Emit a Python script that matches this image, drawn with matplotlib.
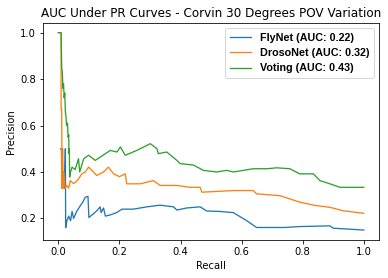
import matplotlib
matplotlib.use("Agg")
import matplotlib.pyplot as plt

# FlyNet
fly_recall = [0.008, 0.010, 0.012, 0.015, 0.020, 0.023, 0.024, 0.028, 0.034, 0.040, 0.045, 0.050, 0.060,
              0.072, 0.080, 0.088, 0.097, 0.100, 0.115, 0.126, 0.137, 0.140, 0.148, 0.154, 0.170,
              0.192, 0.208, 0.246, 0.290, 0.333, 0.377, 0.388, 0.420, 0.464, 0.486, 0.529, 0.573,
              0.617, 0.649, 0.740, 0.790, 0.889, 0.900, 1.000]
fly_precision = [0.50, 0.50, 0.33, 0.40, 0.33, 0.50, 0.16, 0.19, 0.21, 0.19, 0.23, 0.20, 0.23,
                 0.255, 0.27, 0.291, 0.295, 0.204, 0.22, 0.233, 0.25, 0.225, 0.245, 0.21, 0.215,
                 0.226, 0.24, 0.24, 0.25, 0.257, 0.25, 0.236, 0.245, 0.25, 0.232, 0.23, 0.225,
                 0.19, 0.161, 0.161, 0.165, 0.168, 0.158, 0.15]

# DrosoNet
droso_recall = [0.000, 0.009, 0.009, 0.011, 0.012, 0.014, 0.016, 0.018, 0.022, 0.028, 0.034, 0.039, 0.050,
                0.060, 0.066, 0.077, 0.088, 0.099, 0.115, 0.126, 0.148, 0.164, 0.181, 0.200, 0.219,
                0.224, 0.268, 0.311, 0.333, 0.388, 0.431, 0.464, 0.470, 0.573, 0.638, 0.649, 0.725,
                0.758, 0.790, 0.845, 0.889, 0.932, 1.000]
droso_precision = [1.0, 1.0, 0.67, 0.67, 0.33, 0.50, 0.33, 0.40, 0.33, 0.342, 0.33, 0.363, 0.35,
                   0.36, 0.37, 0.392, 0.40, 0.421, 0.40, 0.385, 0.40, 0.421, 0.392, 0.38, 0.392,
                   0.349, 0.349, 0.363, 0.342, 0.342, 0.334, 0.334, 0.313, 0.32, 0.32, 0.306, 0.298,
                   0.284, 0.27, 0.255, 0.248, 0.233, 0.222]

# Voting
vote_recall = [0.000, 0.009, 0.011, 0.013, 0.015, 0.017, 0.019, 0.021, 0.023, 0.025, 0.027, 0.030,
               0.032, 0.034, 0.035, 0.036, 0.037, 0.040, 0.045, 0.055, 0.066, 0.070, 0.083, 0.099,
               0.121, 0.137, 0.170, 0.192, 0.203, 0.219, 0.257, 0.301, 0.323, 0.327, 0.355, 0.388,
               0.399, 0.442, 0.475, 0.518, 0.551, 0.573, 0.638, 0.682, 0.715, 0.758, 0.790, 0.835,
               0.856, 0.889, 0.922, 1.000]
vote_precision = [1.0, 1.0, 0.85, 0.83, 0.76, 0.78, 0.72, 0.74, 0.66, 0.64, 0.60, 0.61,
                  0.55, 0.56, 0.48, 0.50, 0.378, 0.40, 0.421, 0.41, 0.457, 0.40, 0.457, 0.472,
                  0.45, 0.464, 0.493, 0.486, 0.508, 0.472, 0.493, 0.522, 0.50, 0.479, 0.486, 0.45,
                  0.436, 0.43, 0.407, 0.40, 0.407, 0.40, 0.414, 0.414, 0.418, 0.414, 0.392, 0.392,
                  0.363, 0.349, 0.334, 0.334]

labels = ["FlyNet (AUC: 0.22)", "DrosoNet (AUC: 0.32)", "Voting (AUC: 0.43)"]

fig = plt.figure(figsize=(388 / 72, 278 / 72), dpi=72)
ax = fig.add_axes([0.111, 0.137, 0.866, 0.781])
ax.plot(fly_recall, fly_precision, color="#1f77b4", linewidth=1.3, label=labels[0])
ax.plot(droso_recall, droso_precision, color="#ff7f0e", linewidth=1.3, label=labels[1])
ax.plot(vote_recall, vote_precision, color="#2ca02c", linewidth=1.3, label=labels[2])
ax.set_title("AUC Under PR Curves - Corvin 30 Degrees POV Variation")
ax.set_xlabel("Recall")
ax.set_ylabel("Precision")
ax.set_xticks([0.0, 0.2, 0.4, 0.6, 0.8, 1.0])
ax.set_yticks([0.2, 0.4, 0.6, 0.8, 1.0])
ax.legend(loc="upper right", prop={"family": "Liberation Sans", "weight": "bold", "size": 10.8})
fig.savefig("out.png", dpi=72)
